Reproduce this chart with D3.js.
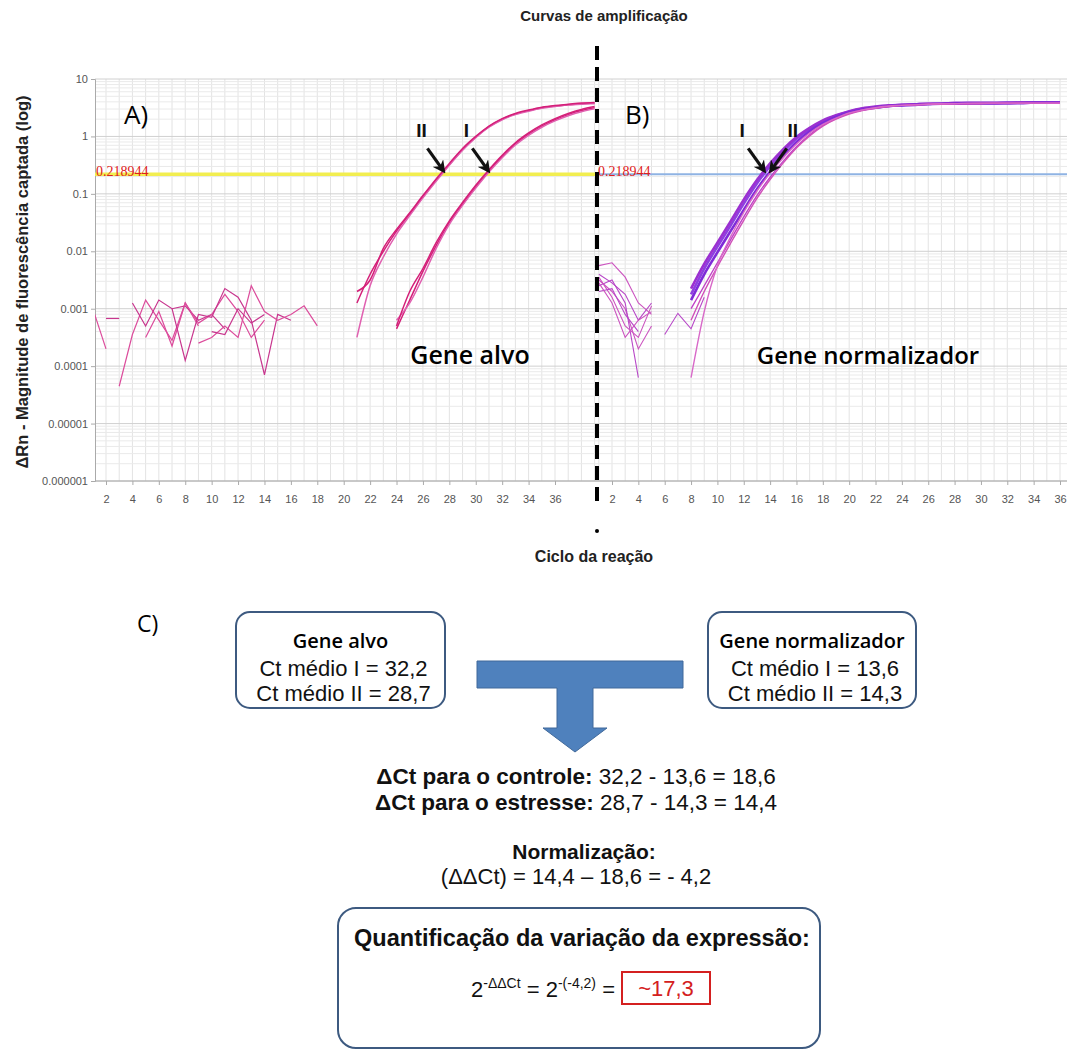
<!DOCTYPE html>
<html>
<head>
<meta charset="utf-8">
<script src="https://cdn.jsdelivr.net/npm/d3@7"></script>
<style>
body { margin: 0; background: #fff; }
</style>
</head>
<body>
<div id="chart"></div>
<script>
// log10 of dRn; start = first cycle of the strand
var threshold = 0.218944;

var yTickValues = [1e-6, 1e-5, 1e-4, 1e-3, 1e-2, 1e-1, 1, 10];
var yTickLabels = ["0.000001", "0.00001", "0.0001", "0.001", "0.01", "0.1", "1", "10"];
var xTickValues = [2, 4, 6, 8, 10, 12, 14, 16, 18, 20, 22, 24, 26, 28, 30, 32, 34, 36];

// panel A - gene alvo
var noiseA = [
  {start: 1, log: [-3.0, -3.7]},
  {start: 2, log: [-3.17, -3.17]},
  {start: 3, log: [-4.35, -3.45, -2.85, -3.2, -3.55, -2.9, -3.3]},
  {start: 4, log: [-2.9, -3.3, -2.85, -3.0, -2.95, -3.2, -3.1, -3.35]},
  {start: 5, log: [-3.5, -3.05, -3.65, -2.9, -3.25, -3.1, -2.75, -3.05, -3.5, -3.2]},
  {start: 7, log: [-3.0, -3.9, -3.1, -3.15, -2.65, -2.8, -3.2, -4.15, -3.1, -3.2]},
  {start: 9, log: [-3.6, -3.5, -3.3, -3.5, -2.6, -3.05, -3.2, -3.1, -2.95, -3.3]},
  {start: 10, log: [-3.4, -3.45, -3.0, -3.25, -3.1]}
];
var curvesA_II = [
  {start: 21, log: [-2.9, -2.4, -2.0, -1.65, -1.35, -1.05, -0.76, -0.49, -0.23, -0.01, 0.17, 0.3, 0.39, 0.45, 0.5, 0.53, 0.55, 0.57, 0.58]},
  {start: 21, log: [-3.5, -2.6, -2.1, -1.7, -1.38, -1.07, -0.78, -0.5, -0.24, -0.02, 0.16, 0.29, 0.38, 0.44, 0.49, 0.52, 0.55, 0.56, 0.57]},
  {start: 21, log: [-2.7, -2.5, -1.95, -1.62, -1.33, -1.03, -0.74, -0.47, -0.21, 0.0, 0.18, 0.31, 0.4, 0.46, 0.51, 0.54, 0.56, 0.58, 0.59]}
];
var curvesA_I = [
  {start: 24, log: [-3.35, -2.85, -2.35, -1.9, -1.5, -1.18, -0.88, -0.6, -0.35, -0.13, 0.04, 0.18, 0.29, 0.38, 0.45, 0.5]},
  {start: 24, log: [-3.2, -2.9, -2.45, -1.95, -1.53, -1.2, -0.9, -0.62, -0.37, -0.15, 0.02, 0.16, 0.27, 0.36, 0.43, 0.48]},
  {start: 24, log: [-3.3, -2.7, -2.3, -1.85, -1.47, -1.15, -0.85, -0.58, -0.33, -0.11, 0.06, 0.2, 0.31, 0.4, 0.47, 0.52]}
];

// panel B - gene normalizador
var noiseB = [
  {start: 1, log: [-2.25, -2.2, -2.45, -2.9, -3.1]},
  {start: 1, log: [-2.4, -2.55, -2.75, -3.2, -2.9]},
  {start: 1, log: [-2.5, -2.7, -3.0, -3.7, -3.3]},
  {start: 1, log: [-2.6, -2.5, -2.9, -4.2]},
  {start: 1, log: [-2.45, -2.8, -3.3, -3.5, -2.95]},
  {start: 1, log: [-2.7, -2.65, -3.1, -3.4]},
  {start: 1, log: [-2.55, -2.9, -3.5, -3.2, -3.05]},
  {start: 6, log: [-3.45, -3.08, -3.35, -2.8]}
];
var curvesB = [
  {start: 8, log: [-2.75, -2.3, -1.92, -1.55, -1.17, -0.82, -0.52, -0.26, -0.04, 0.13, 0.26, 0.36, 0.43, 0.48, 0.51, 0.53, 0.55, 0.56, 0.57, 0.57, 0.58, 0.58, 0.58, 0.58, 0.59, 0.59, 0.59, 0.59, 0.59]},
  {start: 8, log: [-2.65, -2.22, -1.85, -1.48, -1.1, -0.76, -0.47, -0.22, -0.01, 0.15, 0.28, 0.37, 0.44, 0.49, 0.52, 0.54, 0.55, 0.56, 0.57, 0.57, 0.58, 0.58, 0.58, 0.58, 0.58, 0.59, 0.59, 0.59, 0.59]},
  {start: 8, log: [-2.85, -2.4, -2.02, -1.65, -1.28, -0.92, -0.61, -0.34, -0.1, 0.09, 0.23, 0.34, 0.42, 0.47, 0.5, 0.53, 0.54, 0.55, 0.56, 0.57, 0.57, 0.58, 0.58, 0.58, 0.58, 0.58, 0.59, 0.59, 0.59]},
  {start: 8, log: [-3.0, -2.6, -2.2, -1.8, -1.4, -1.03, -0.71, -0.43, -0.18, 0.03, 0.19, 0.31, 0.4, 0.46, 0.5, 0.52, 0.54, 0.55, 0.56, 0.57, 0.57, 0.57, 0.58, 0.58, 0.58, 0.58, 0.58, 0.58, 0.58]},
  {start: 8, log: [-3.2, -2.7, -2.27, -1.86, -1.46, -1.08, -0.75, -0.46, -0.2, 0.01, 0.18, 0.3, 0.39, 0.45, 0.49, 0.52, 0.54, 0.55, 0.56, 0.56, 0.57, 0.57, 0.57, 0.58, 0.58, 0.58, 0.58, 0.58, 0.58]},
  {start: 8, log: [-4.2, -3.05, -2.25, -1.75, -1.32, -0.95, -0.64, -0.37, -0.13, 0.06, 0.21, 0.32, 0.41, 0.46, 0.5, 0.53, 0.54, 0.55, 0.56, 0.57, 0.57, 0.58, 0.58, 0.58, 0.58, 0.58, 0.58, 0.58, 0.58]}
];
var colorsB = ["#8e3fe0", "#9b30d0", "#7f2bd8", "#c040c8", "#d050b8", "#d868c8"];

// Ct read at the threshold, with the arrow labels
var ctA = [27.4, 30.8];
var ctLabelsA = ["II", "I"];
var ctB = [13.4, 14.2];
var ctLabelsB = ["I", "II"];

var W = 1070, H = 1052;
var svg = d3.select("#chart").append("svg")
    .attr("width", W)
    .attr("height", H)
    .style("font-family", "'Liberation Sans', Arial, sans-serif");

var y = d3.scaleLog().domain([1e-6, 10]).range([481, 79]);
var xA = d3.scaleLinear().domain([2, 36]).range([106, 555]);
var xB = d3.scaleLinear().domain([2, 36]).range([612, 1060]);

var panels = [
  {id: "A", x: xA, x0: 95, x1: 597, thrColor: "#f2ee50", thrWidth: 3.5},
  {id: "B", x: xB, x0: 597, x1: 1067, thrColor: "#8fb3e3", thrWidth: 2}
];

var defs = svg.append("defs");
panels.forEach(function(p) {
  defs.append("clipPath").attr("id", "clip" + p.id)
    .append("rect")
    .attr("x", p.x0).attr("y", 75)
    .attr("width", p.x1 - p.x0).attr("height", 410);
});
defs.append("marker")
    .attr("id", "arrowhead")
    .attr("viewBox", "0 0 10 10")
    .attr("refX", 6).attr("refY", 5)
    .attr("markerWidth", 4).attr("markerHeight", 4)
    .attr("orient", "auto")
    .append("path")
    .attr("d", "M0,0 L10,5 L0,10 L3,5 z")
    .attr("fill", "#111");

// grid
var grid = svg.append("g").attr("class", "grid");
panels.forEach(function(p) {
  var c0 = Math.ceil(p.x.invert(p.x0)), c1 = Math.floor(p.x.invert(p.x1));
  grid.selectAll("line.v" + p.id)
    .data(d3.range(c0, c1 + 1))
    .enter().append("line")
    .attr("x1", function(d) { return p.x(d); })
    .attr("x2", function(d) { return p.x(d); })
    .attr("y1", y(10)).attr("y2", y(1e-6))
    .attr("stroke", "#e3e3e3")
    .attr("stroke-width", 1);
});
grid.selectAll("line.h")
    .data(y.ticks())
    .enter().append("line")
    .attr("x1", 95).attr("x2", 1067)
    .attr("y1", function(d) { return y(d); })
    .attr("y2", function(d) { return y(d); })
    .attr("stroke", function(d) { return yTickValues.indexOf(d) >= 0 ? "#d0d0d0" : "#eaeaea"; })
    .attr("stroke-width", 1);

// axes
var yAxis = svg.append("g")
    .attr("transform", "translate(95,0)")
    .call(d3.axisLeft(y).tickValues(yTickValues)
      .tickFormat(function(d, i) { return yTickLabels[i]; })
      .tickSize(4));
yAxis.select(".domain").attr("stroke", "#aaa");
yAxis.selectAll(".tick line").attr("stroke", "#aaa");
yAxis.selectAll("text").attr("fill", "#555").style("font-size", "11px");

panels.forEach(function(p) {
  var ax = svg.append("g")
      .attr("transform", "translate(0,481)")
      .call(d3.axisBottom(p.x).tickValues(xTickValues).tickSize(4).tickPadding(10));
  ax.select(".domain").remove();
  ax.selectAll(".tick line").attr("stroke", "#aaa");
  ax.selectAll("text").attr("fill", "#555").style("font-size", "11px");
});
svg.append("line")
    .attr("x1", 95).attr("x2", 1067)
    .attr("y1", 481).attr("y2", 481)
    .attr("stroke", "#aaa");

// threshold lines
panels.forEach(function(p) {
  svg.append("line")
    .attr("x1", p.x0).attr("x2", p.x1)
    .attr("y1", y(threshold)).attr("y2", y(threshold))
    .attr("stroke", p.thrColor)
    .attr("stroke-width", p.thrWidth);
  svg.append("text")
    .attr("x", p.x0 + 1)
    .attr("y", y(threshold) + 2)
    .attr("fill", "#e02020")
    .style("font-family", "'Liberation Serif', 'Times New Roman', serif")
    .style("font-size", "14px")
    .text(String(threshold));
});

// curves
function lineFor(x, curve) {
  return function(s) {
    return d3.line()
      .defined(function(d) { return d != null; })
      .x(function(d, i) { return x(s.start + i); })
      .y(function(d) { return y(Math.pow(10, d)); })
      .curve(curve)(s.log);
  };
}

var gA = svg.append("g").attr("clip-path", "url(#clipA)");
gA.selectAll("path.noise")
    .data(noiseA)
    .enter().append("path")
    .attr("d", lineFor(xA, d3.curveLinear))
    .attr("fill", "none")
    .attr("stroke", function(d, i) { return i % 2 ? "#c8368e" : "#dc4c9c"; })
    .attr("stroke-width", 1.2);
gA.selectAll("path.amp")
    .data(curvesA_II.concat(curvesA_I))
    .enter().append("path")
    .attr("d", lineFor(xA, d3.curveMonotoneX))
    .attr("fill", "none")
    .attr("stroke", function(d, i) { return i % 3 == 1 ? "#e060b0" : "#d41f78"; })
    .attr("stroke-width", 1.5);

var gB = svg.append("g").attr("clip-path", "url(#clipB)");
gB.selectAll("path.noise")
    .data(noiseB)
    .enter().append("path")
    .attr("d", lineFor(xB, d3.curveLinear))
    .attr("fill", "none")
    .attr("stroke", function(d, i) { return i % 2 ? "#b848c8" : "#cc55c0"; })
    .attr("stroke-width", 1.1);
gB.selectAll("path.amp")
    .data(curvesB)
    .enter().append("path")
    .attr("d", lineFor(xB, d3.curveMonotoneX))
    .attr("fill", "none")
    .attr("stroke", function(d, i) { return colorsB[i]; })
    .attr("stroke-width", function(d, i) { return i < 3 ? 2.6 : 1.4; });

// arrows at Ct
function ctArrows(x, cts, labels, dirs) {
  cts.forEach(function(ct, i) {
    var tx = x(ct), ty = y(threshold) - 3;
    var dx = dirs[i] * 14, dy = -23;
    svg.append("line")
      .attr("x1", tx + dx).attr("y1", ty + dy)
      .attr("x2", tx - dirs[i] * 1).attr("y2", ty - 2)
      .attr("stroke", "#111")
      .attr("stroke-width", 3.2)
      .attr("marker-end", "url(#arrowhead)");
    svg.append("text")
      .attr("x", tx + dirs[i] * 20)
      .attr("y", ty - 34)
      .attr("text-anchor", "middle")
      .style("font-size", "19px")
      .style("font-weight", "bold")
      .attr("fill", "#111")
      .text(labels[i]);
  });
}
ctArrows(xA, ctA, ctLabelsA, [-1, -1]);
ctArrows(xB, ctB, ctLabelsB, [-1, 1]);

// panel letters and gene names
var calib = "'Open Sans', 'Noto Sans', sans-serif";
svg.append("text").attr("x", 124).attr("y", 124)
    .style("font-family", calib).style("font-size", "26px").text("A)");
svg.append("text").attr("x", 625).attr("y", 124)
    .style("font-family", calib).style("font-size", "26px").text("B)");
svg.append("text").attr("x", 470).attr("y", 364).attr("text-anchor", "middle")
    .style("font-family", calib).style("font-size", "25px").style("font-weight", 600)
    .text("Gene alvo");
svg.append("text").attr("x", 868).attr("y", 364).attr("text-anchor", "middle")
    .style("font-family", calib).style("font-size", "24px").style("font-weight", 600)
    .text("Gene normalizador");

// dashed divider
svg.append("line")
    .attr("x1", 597).attr("x2", 597)
    .attr("y1", 46).attr("y2", 508)
    .attr("stroke", "#000")
    .attr("stroke-width", 4)
    .attr("stroke-dasharray", "14,7");
svg.append("circle").attr("cx", 597).attr("cy", 531).attr("r", 2).attr("fill", "#000");

// titles
svg.append("text").attr("x", 604).attr("y", 21).attr("text-anchor", "middle")
    .style("font-size", "15px").style("font-weight", "bold").attr("fill", "#222")
    .text("Curvas de amplificação");
svg.append("text").attr("x", 594).attr("y", 562).attr("text-anchor", "middle")
    .style("font-size", "16px").style("font-weight", "bold").attr("fill", "#222")
    .text("Ciclo da reação");
svg.append("text")
    .attr("transform", "translate(28,282) rotate(-90)")
    .attr("text-anchor", "middle")
    .style("font-size", "16.5px").style("font-weight", "bold").attr("fill", "#222")
    .text("ΔRn - Magnitude de fluorescência captada (log)");

// C) calculation
var boxStroke = "#3d5a80";
svg.append("text").attr("x", 137).attr("y", 632)
    .style("font-family", calib).style("font-size", "23px").text("C)");

var boxes = [
  {x: 236, w: 209, title: "Gene alvo", lines: ["Ct médio I = 32,2", "Ct médio II = 28,7"]},
  {x: 708, w: 208, title: "Gene normalizador", lines: ["Ct médio I = 13,6", "Ct médio II = 14,3"]}
];
boxes.forEach(function(b) {
  svg.append("rect")
    .attr("x", b.x).attr("y", 612).attr("width", b.w).attr("height", 96)
    .attr("rx", 14)
    .attr("fill", "#fff").attr("stroke", boxStroke).attr("stroke-width", 2);
  svg.append("text").attr("x", b.x + b.w / 2).attr("y", 648).attr("text-anchor", "middle")
    .style("font-family", calib).style("font-size", "20px").style("font-weight", 600)
    .text(b.title);
  b.lines.forEach(function(t, i) {
    svg.append("text").attr("x", b.x + b.w / 2 + 3).attr("y", 676 + i * 25).attr("text-anchor", "middle")
      .style("font-size", "22px").attr("fill", "#111")
      .text(t);
  });
});

// T-shaped arrow
svg.append("path")
    .attr("d", "M477,661 H683 V688 H593 V728 H607 L575,752 L543,728 H557 V688 H477 Z")
    .attr("fill", "#4f81bd")
    .attr("stroke", "#41699a")
    .attr("stroke-width", 1);

function mixedLine(yy, boldPart, normalPart, size) {
  var t = svg.append("text").attr("x", 576).attr("y", yy).attr("text-anchor", "middle")
    .style("font-size", size + "px").attr("fill", "#111");
  t.append("tspan").style("font-weight", "bold").text(boldPart);
  t.append("tspan").text(normalPart);
}
mixedLine(784, "ΔCt para o controle: ", "32,2 - 13,6 = 18,6", 22.5);
mixedLine(810, "ΔCt para o estresse: ", "28,7 - 14,3 =  14,4", 22.5);
svg.append("text").attr("x", 584).attr("y", 859).attr("text-anchor", "middle")
    .style("font-size", "21px").style("font-weight", "bold").attr("fill", "#111")
    .text("Normalização:");
svg.append("text").attr("x", 576).attr("y", 884).attr("text-anchor", "middle")
    .style("font-size", "22px").attr("fill", "#111")
    .text("(ΔΔCt) = 14,4 – 18,6 = - 4,2");

svg.append("rect")
    .attr("x", 338).attr("y", 908).attr("width", 482).attr("height", 140)
    .attr("rx", 18)
    .attr("fill", "#fff").attr("stroke", boxStroke).attr("stroke-width", 2);
svg.append("text").attr("x", 582).attr("y", 946).attr("text-anchor", "middle")
    .style("font-size", "23.5px").style("font-weight", "bold").attr("fill", "#111")
    .text("Quantificação da variação da expressão:");
var f = svg.append("text").attr("x", 615).attr("y", 997).attr("text-anchor", "end")
    .style("font-size", "22px").attr("fill", "#111");
f.append("tspan").text("2");
f.append("tspan").attr("dy", -9).style("font-size", "14px").text("-ΔΔCt");
f.append("tspan").attr("dy", 9).text(" = 2");
f.append("tspan").attr("dy", -9).style("font-size", "14px").text("-(-4,2)");
f.append("tspan").attr("dy", 9).text(" = ");
svg.append("rect")
    .attr("x", 622).attr("y", 972).attr("width", 88).attr("height", 32)
    .attr("fill", "none").attr("stroke", "#d42020").attr("stroke-width", 2);
svg.append("text").attr("x", 666).attr("y", 996).attr("text-anchor", "middle")
    .style("font-size", "22px").attr("fill", "#d42020")
    .text("~17,3");
</script>
</body>
</html>
